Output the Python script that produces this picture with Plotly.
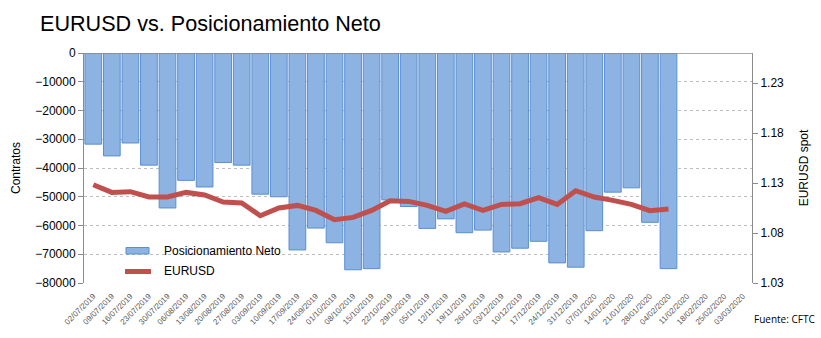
import plotly.graph_objects as go

# Weekly CFTC report dates
fechas = [
    "02/07/2019", "09/07/2019", "16/07/2019", "23/07/2019", "30/07/2019",
    "06/08/2019", "13/08/2019", "20/08/2019", "27/08/2019", "03/09/2019",
    "10/09/2019", "17/09/2019", "24/09/2019", "01/10/2019", "08/10/2019",
    "15/10/2019", "22/10/2019", "29/10/2019", "05/11/2019", "12/11/2019",
    "19/11/2019", "26/11/2019", "03/12/2019", "10/12/2019", "17/12/2019",
    "24/12/2019", "31/12/2019", "07/01/2020", "14/01/2020", "21/01/2020",
    "28/01/2020", "04/02/2020", "11/02/2020", "18/02/2020", "25/02/2020",
    "03/03/2020",
]

# Net speculative positioning (contracts)
posicionamiento = [
    -31700, -35800, -31300, -39000, -53900,
    -44300, -46600, -38100, -39000, -49100,
    -50000, -68500, -60900, -66000, -75400,
    -75000, -51100, -53400, -61000, -57700,
    -62500, -61600, -69200, -67900, -65500,
    -73000, -74500, -61800, -48400, -46900,
    -58900, -75000, None, None, None,
    None,
]

# EURUSD spot
eurusd = [
    1.1283, 1.1206, 1.1213, 1.1160, 1.1160,
    1.1206, 1.1180, 1.1110, 1.1100, 1.0973,
    1.1050, 1.1076, 1.1026, 1.0933, 1.0956,
    1.1026, 1.1123, 1.1116, 1.1076, 1.1016,
    1.1090, 1.1026, 1.1086, 1.1093, 1.1153,
    1.1086, 1.1223, 1.1160, 1.1126, 1.1086,
    1.1023, 1.1040, None, None, None,
    None,
]

FONT = "Liberation Sans, Arial, sans-serif"
GRID = "#BFBFBF"
AXIS = "#8C8C8C"
BAR_FILL = "#8DB3E2"
BAR_EDGE = "#5A8ED3"
LINE_COLOR = "#C0504D"

fig = go.Figure()

fig.add_trace(go.Bar(
    x=fechas, y=posicionamiento, name="Posicionamiento Neto",
    marker=dict(color=BAR_FILL, line=dict(color=BAR_EDGE, width=1)),
    yaxis="y", showlegend=False,
))

fig.add_trace(go.Scatter(
    x=fechas, y=eurusd, name="EURUSD", mode="lines",
    line=dict(color=LINE_COLOR, width=5),
    yaxis="y2", showlegend=False,
))

fig.update_layout(
    width=821, height=338,
    margin=dict(l=84, r=69, t=53, b=55),
    paper_bgcolor="white", plot_bgcolor="white",
    font=dict(family=FONT, size=12, color="#000000"),
    bargap=0.1,
    title=dict(
        text="EURUSD vs. Posicionamiento Neto",
        font=dict(family=FONT, size=21.6, color="#000000"),
        x=40 / 821, xanchor="left", xref="container",
        y=1 - 23 / 338, yanchor="middle", yref="container",
    ),
    xaxis=dict(
        type="category",
        tickangle=-45,
        tickfont=dict(size=8, color="#595959"),
        ticklabelstandoff=6,
        showgrid=False, showline=False, ticks="",
        range=[-0.5, len(fechas) - 0.5],
    ),
    yaxis=dict(
        range=[-80000, 0], dtick=10000, tick0=0,
        showgrid=True, gridcolor=GRID, griddash="dot", gridwidth=1,
        showline=True, linecolor=AXIS, linewidth=1,
        ticks="outside", ticklen=5, tickcolor=AXIS,
        zeroline=False,
        tickformat="d",
        title=dict(text="Contratos", font=dict(size=12), standoff=12),
    ),
    yaxis2=dict(
        overlaying="y", side="right",
        range=[1.03, 1.26], dtick=0.05, tick0=1.03,
        showgrid=False, zeroline=False,
        showline=True, linecolor=AXIS, linewidth=1,
        ticks="outside", ticklen=5, tickcolor=AXIS,
        tickformat=".2f",
        title=dict(text="EURUSD spot", font=dict(size=12), standoff=16),
    ),
)

# Horizontal axis line crossing at zero (top of the plot)
fig.add_shape(type="line", xref="paper", yref="y", x0=0, x1=1, y0=0, y1=0,
              line=dict(color=AXIS, width=1.5))

# Legend drawn with wide swatches, placed inside the plot area
PX_W, PX_H = 668, 230  # plot area size in pixels


def px_x(px):
    return (px - 84) / PX_W


def px_y(py):
    return (283 - py) / PX_H


fig.add_shape(type="rect", xref="paper", yref="paper",
              x0=px_x(126), x1=px_x(149), y0=px_y(254), y1=px_y(247.5),
              fillcolor=BAR_FILL, line=dict(color=BAR_EDGE, width=1))
fig.add_shape(type="line", xref="paper", yref="paper",
              x0=px_x(125), x1=px_x(151), y0=px_y(271.5), y1=px_y(271.5),
              line=dict(color=LINE_COLOR, width=5))
fig.add_annotation(text="Posicionamiento Neto", xref="paper", yref="paper",
                   x=px_x(162), y=px_y(250.5), xanchor="left", yanchor="middle",
                   showarrow=False, font=dict(size=12, color="#000000"))
fig.add_annotation(text="EURUSD", xref="paper", yref="paper",
                   x=px_x(162), y=px_y(270.5), xanchor="left", yanchor="middle",
                   showarrow=False, font=dict(size=12, color="#000000"))

fig.add_annotation(
    text="Fuente: CFTC", xref="paper", yref="paper",
    x=1.0, y=-0.155, xanchor="left", yanchor="middle", showarrow=False,
    font=dict(family="Open Sans, sans-serif", size=10, color="#000000"),
)

fig.write_html("out.html")
